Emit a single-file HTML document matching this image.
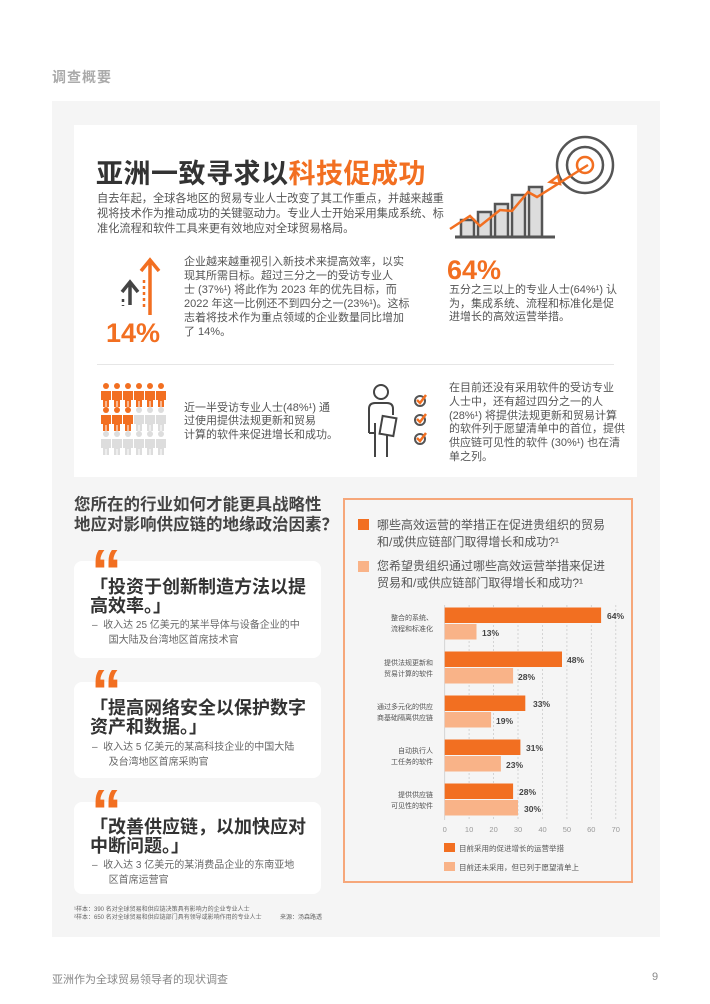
<!DOCTYPE html>
<html><head><meta charset="utf-8">
<style>
*{margin:0;padding:0;box-sizing:border-box}
body{width:710px;height:1004px;background:#fff;position:relative;overflow:hidden;font-family:"Liberation Sans","Noto Sans CJK SC",sans-serif;color:#444}
.a{position:absolute;white-space:nowrap}
.o{color:#f26f21}
.p{font-size:11px;line-height:14px;color:#555}
.card{position:absolute;background:#fff;border-radius:8px}
.q{position:absolute;font-size:62px;font-weight:bold;color:#f26f21;font-family:"Liberation Sans",sans-serif;line-height:1}
.qt{font-size:18px;font-weight:bold;line-height:19px;color:#333}
.qs{font-size:10px;line-height:15px;color:#666}
</style></head><body>
<div class="a" style="left:52px;top:67px;font-size:14px;color:#aaa;font-weight:bold;letter-spacing:1px">调查概要</div>
<div class="a" style="left:52px;top:101px;width:608px;height:836px;background:#f5f5f5"></div>
<div class="a" style="left:74px;top:125px;width:563px;height:352px;background:#fff"></div>
<div class="a" style="left:96px;top:152px;font-size:27px;font-weight:bold;color:#333;letter-spacing:0.5px">亚洲一致寻求以<span class="o">科技促成功</span></div>
<div class="a p" style="left:97px;top:192px;font-size:11.2px;line-height:14.8px">自去年起，全球各地区的贸易专业人士改变了其工作重点，并越来越重<br>视将技术作为推动成功的关键驱动力。专业人士开始采用集成系统、标<br>准化流程和软件工具来更有效地应对全球贸易格局。</div>
<svg class="a" style="left:440px;top:130px" width="200" height="120" viewBox="0 0 200 120">
<g stroke="#555" stroke-width="2.5" fill="#ddd">
<rect x="21" y="90" width="13" height="17"/><rect x="38" y="82" width="13" height="25"/><rect x="55" y="74" width="13" height="33"/><rect x="72" y="65" width="13" height="42"/><rect x="89" y="57" width="13" height="50"/>
</g>
<line x1="15" y1="107" x2="115" y2="107" stroke="#555" stroke-width="3"/>
<g fill="none" stroke="#555" stroke-width="2.5"><circle cx="145" cy="35" r="28"/><circle cx="145" cy="35" r="18"/></g>
<circle cx="145" cy="35" r="8" fill="none" stroke="#f26f21" stroke-width="2.5"/>
<polyline points="10,99 30,86 40,96 60,80 72,81 88,62 97,67 148,35" fill="none" stroke="#f26f21" stroke-width="2.5"/>
<path d="M110 52 l8 -6 l2 8 z" fill="none" stroke="#f26f21" stroke-width="2.5"/>
</svg>
<svg class="a" style="left:105px;top:255px" width="65" height="65" viewBox="0 0 65 65">
<path d="M45 60 V6 M36 16 L45 5 L54 16" fill="none" stroke="#f26f21" stroke-width="3.5"/>
<line x1="39" y1="25" x2="39" y2="55" stroke="#f26f21" stroke-width="2.5" stroke-dasharray="3,3"/>
<path d="M25 50 V28 M17 37 L25 27 L33 37" fill="none" stroke="#444" stroke-width="3.5"/>
<line x1="18" y1="44" x2="18" y2="51" stroke="#444" stroke-width="2.5" stroke-dasharray="3,3"/>
</svg>
<div class="a o" style="left:106px;top:318px;font-size:27px;font-weight:bold">14%</div>
<div class="a p" style="left:184px;top:256px;line-height:13.9px">企业越来越重视引入新技术来提高效率，以实<br>现其所需目标。超过三分之一的受访专业人<br>士 (37%¹) 将此作为 2023 年的优先目标，而<br>2022 年这一比例还不到四分之一(23%¹)。这标<br>志着将技术作为重点领域的企业数量同比增加<br>了 14%。</div>
<div class="a o" style="left:447px;top:255px;font-size:27px;font-weight:bold">64%</div>
<div class="a p" style="left:449px;top:284px;line-height:13.7px">五分之三以上的专业人士(64%¹) 认<br>为，集成系统、流程和标准化是促<br>进增长的高效运营举措。</div>
<div class="a" style="left:97px;top:364px;width:517px;height:1px;background:#e6e6e6"></div>
<svg class="a" style="left:101px;top:383px" width="70" height="76" viewBox="0 0 70 76">
<defs><g id="pr"><circle cx="5" cy="3" r="3"/><path d="M0 8 h10 v9 h-2 v7 h-2.5 v-6 h-1 v6 h-2.5 v-7 h-2z"/></g></defs>
<g fill="#f26f21">
<use href="#pr" x="0" y="0"/><use href="#pr" x="11" y="0"/><use href="#pr" x="22" y="0"/><use href="#pr" x="33" y="0"/><use href="#pr" x="44" y="0"/><use href="#pr" x="55" y="0"/>
<use href="#pr" x="0" y="24"/><use href="#pr" x="11" y="24"/><use href="#pr" x="22" y="24"/>
</g>
<g fill="#ddd">
<use href="#pr" x="33" y="24"/><use href="#pr" x="44" y="24"/><use href="#pr" x="55" y="24"/>
<use href="#pr" x="0" y="48"/><use href="#pr" x="11" y="48"/><use href="#pr" x="22" y="48"/><use href="#pr" x="33" y="48"/><use href="#pr" x="44" y="48"/><use href="#pr" x="55" y="48"/>
</g>
</svg>
<div class="a p" style="left:184px;top:402px;line-height:13.3px">近一半受访专业人士(48%¹) 通<br>过使用提供法规更新和贸易<br>计算的软件来促进增长和成功。</div>
<svg class="a" style="left:365px;top:383px" width="65" height="76" viewBox="0 0 65 76">
<g fill="none" stroke="#444" stroke-width="2">
<circle cx="16" cy="9" r="7"/>
<path d="M4 50 V26 q0 -6 6 -6 h12 q6 0 6 6 v6 M10 74 V40 M22 74 V52 M4 50 h6"/>
<rect x="16" y="34" width="14" height="18" transform="rotate(10 23 43)"/>
</g>
<g fill="none" stroke="#555" stroke-width="2"><circle cx="55" cy="18" r="5"/><circle cx="55" cy="37" r="5"/><circle cx="55" cy="56" r="5"/></g>
<g fill="none" stroke="#f26f21" stroke-width="2.5"><path d="M52 17 l3 3 l6 -8"/><path d="M52 36 l3 3 l6 -8"/><path d="M52 55 l3 3 l6 -8"/></g>
</svg>
<div class="a p" style="left:449px;top:382px;line-height:13.8px">在目前还没有采用软件的受访专业<br>人士中，还有超过四分之一的人<br>(28%¹) 将提供法规更新和贸易计算<br>的软件列于愿望清单中的首位，提供<br>供应链可见性的软件 (30%¹) 也在清<br>单之列。</div>

<div class="a" style="left:74px;top:495px;font-size:16.5px;font-weight:bold;line-height:20px;color:#444">您所在的行业如何才能更具战略性<br>地应对影响供应链的地缘政治因素？</div>
<div class="card" style="left:74px;top:561px;width:247px;height:97px"></div>
<div class="card" style="left:74px;top:682px;width:247px;height:96px"></div>
<div class="card" style="left:74px;top:802px;width:247px;height:92px"></div>
<div class="q" style="left:91px;top:542px">“</div>
<div class="q" style="left:91px;top:662px">“</div>
<div class="q" style="left:91px;top:782px">“</div>
<div class="a qt" style="left:90px;top:578px">「投资于创新制造方法以提<br>高效率。」</div>
<div class="a qs" style="left:92px;top:618px">–&nbsp; 收入达 25 亿美元的某半导体与设备企业的中<br>&nbsp;&nbsp;&nbsp;&nbsp;&nbsp; 国大陆及台湾地区首席技术官</div>
<div class="a qt" style="left:90px;top:699px">「提高网络安全以保护数字<br>资产和数据。」</div>
<div class="a qs" style="left:92px;top:740px">–&nbsp; 收入达 5 亿美元的某高科技企业的中国大陆<br>&nbsp;&nbsp;&nbsp;&nbsp;&nbsp; 及台湾地区首席采购官</div>
<div class="a qt" style="left:90px;top:818px">「改善供应链，以加快应对<br>中断问题。」</div>
<div class="a qs" style="left:92px;top:858px">–&nbsp; 收入达 3 亿美元的某消费品企业的东南亚地<br>&nbsp;&nbsp;&nbsp;&nbsp;&nbsp; 区首席运营官</div>

<div class="a" style="left:343px;top:498px;width:290px;height:385px;border:2px solid #f6a77a"></div>
<div class="a" style="left:358px;top:519px;width:11px;height:11px;background:#f26f21"></div>
<div class="a" style="left:377px;top:517px;font-size:12px;line-height:16.5px;color:#555">哪些高效运营的举措正在促进贵组织的贸易<br>和/或供应链部门取得增长和成功?¹</div>
<div class="a" style="left:358px;top:561px;width:11px;height:11px;background:#f9b388"></div>
<div class="a" style="left:377px;top:558px;font-size:12px;line-height:16.5px;color:#555">您希望贵组织通过哪些高效运营举措来促进<br>贸易和/或供应链部门取得增长和成功?¹</div>
<svg class="a" style="left:343px;top:595px" width="290" height="285" viewBox="343 595 290 285">
<g stroke="#ccc" stroke-width="0.8" stroke-dasharray="2,2">
<line x1="469.1" y1="605" x2="469.1" y2="820"/><line x1="493.6" y1="605" x2="493.6" y2="820"/><line x1="518" y1="605" x2="518" y2="820"/><line x1="542.5" y1="605" x2="542.5" y2="820"/><line x1="566.9" y1="605" x2="566.9" y2="820"/><line x1="591.3" y1="605" x2="591.3" y2="820"/><line x1="615.8" y1="605" x2="615.8" y2="820"/>
</g>
<line x1="444.7" y1="605" x2="444.7" y2="820" stroke="#ccc" stroke-width="0.8"/>
<g fill="#f26f21">
<rect x="444.7" y="607.5" width="156.4" height="15.5"/>
<rect x="444.7" y="651.5" width="117.3" height="15.5"/>
<rect x="444.7" y="695.5" width="80.6" height="15.5"/>
<rect x="444.7" y="739.5" width="75.7" height="15.5"/>
<rect x="444.7" y="783.5" width="68.4" height="15.5"/>
</g>
<g fill="#f9b388">
<rect x="444.7" y="624" width="31.8" height="15.5"/>
<rect x="444.7" y="668" width="68.4" height="15.5"/>
<rect x="444.7" y="712" width="46.4" height="15.5"/>
<rect x="444.7" y="756" width="56.2" height="15.5"/>
<rect x="444.7" y="800" width="73.3" height="15.5"/>
</g>
<g font-size="8.5" font-weight="bold" fill="#444" font-family="Liberation Sans,sans-serif">
<text x="607" y="619">64%</text><text x="482" y="636">13%</text>
<text x="567" y="663">48%</text><text x="518" y="680">28%</text>
<text x="533" y="707">33%</text><text x="496" y="724">19%</text>
<text x="526" y="751">31%</text><text x="506" y="768">23%</text>
<text x="519" y="795">28%</text><text x="524" y="812">30%</text>
</g>
<g font-size="7" fill="#555" text-anchor="end" font-family="Liberation Sans,Noto Sans CJK SC,sans-serif">
<text x="433" y="620">整合的系统、</text><text x="433" y="631">流程和标准化</text>
<text x="433" y="665">提供法规更新和</text><text x="433" y="676">贸易计算的软件</text>
<text x="433" y="709">通过多元化的供应</text><text x="433" y="720">商基础隔离供应链</text>
<text x="433" y="753">自动执行人</text><text x="433" y="764">工任务的软件</text>
<text x="433" y="797">提供供应链</text><text x="433" y="808">可见性的软件</text>
</g>
<g font-size="7.5" fill="#999" text-anchor="middle" font-family="Liberation Sans,sans-serif">
<text x="444.7" y="832">0</text><text x="469.1" y="832">10</text><text x="493.6" y="832">20</text><text x="518" y="832">30</text><text x="542.5" y="832">40</text><text x="566.9" y="832">50</text><text x="591.3" y="832">60</text><text x="615.8" y="832">70</text>
</g>
<rect x="444" y="843" width="11" height="9" fill="#f26f21"/>
<rect x="444" y="862" width="11" height="9" fill="#f9b388"/>
<g font-size="7.5" fill="#555" font-family="Liberation Sans,Noto Sans CJK SC,sans-serif">
<text x="459" y="851">目前采用的促进增长的运营举措</text>
<text x="459" y="870">目前还未采用，但已列于愿望清单上</text>
</g>
</svg>
<div class="a" style="left:74px;top:906px;font-size:6px;line-height:8px;color:#666">¹样本：390 名对全球贸易和供应链决策具有影响力的企业专业人士<br>²样本：650 名对全球贸易和供应链部门具有领导或影响作用的专业人士 &nbsp;&nbsp;&nbsp;&nbsp;&nbsp;&nbsp;&nbsp;&nbsp;&nbsp; 来源：汤森路透</div>
<div class="a" style="left:52px;top:971px;font-size:11px;color:#888">亚洲作为全球贸易领导者的现状调查</div>
<div class="a" style="left:652px;top:971px;font-size:11px;color:#888">9</div>
</body></html>
